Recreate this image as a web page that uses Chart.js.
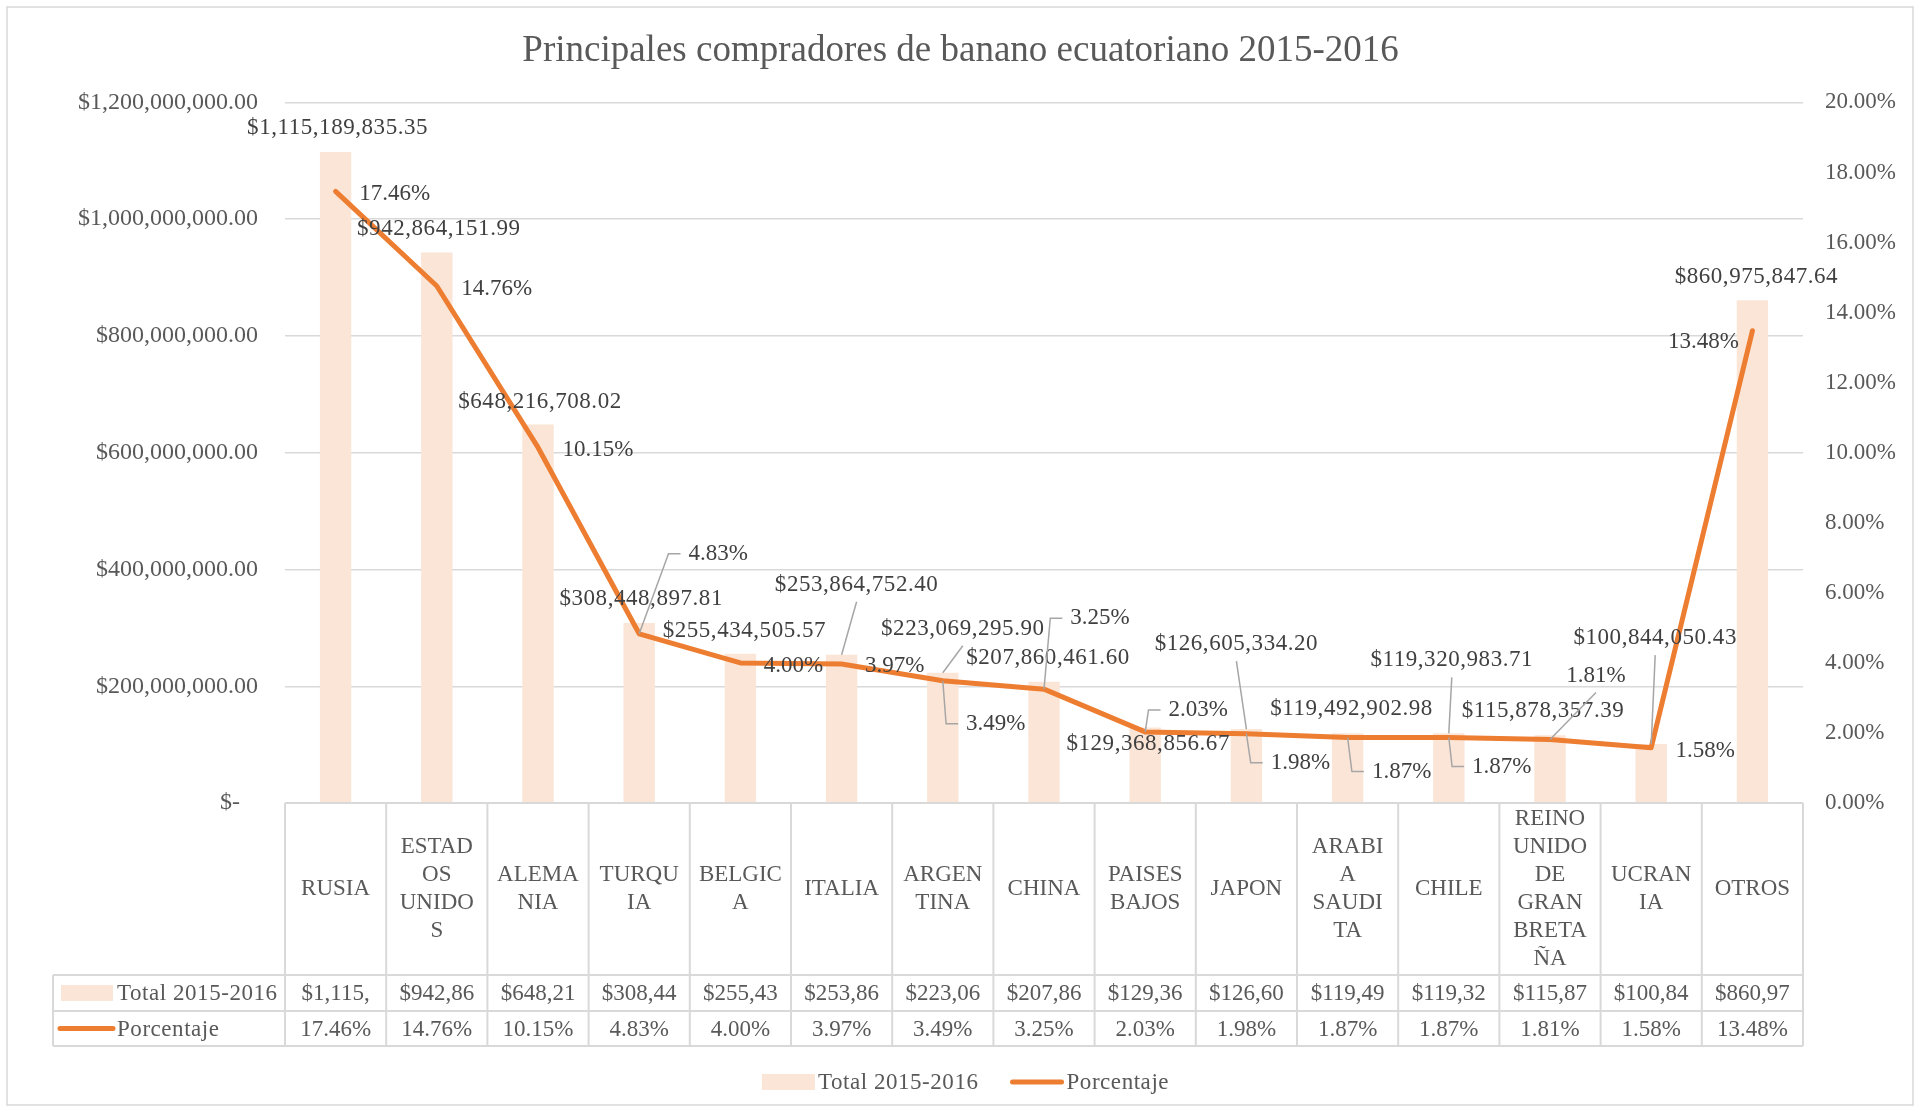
<!DOCTYPE html>
<html>
<head>
<meta charset="utf-8">
<script src="https://cdn.jsdelivr.net/npm/chart.js@4/dist/chart.umd.min.js"></script>
<style>
  html, body { margin: 0; padding: 0; background: #ffffff; }
  canvas { display: block; }
</style>
</head>
<body>
<canvas id="c" width="1921" height="1112" style="width:1921px;height:1112px"></canvas>
<script>
// ---------------- DATA ----------------
const titleText = "Principales compradores de banano ecuatoriano 2015-2016";
const seriesNames = ["Total 2015-2016", "Porcentaje"];
const categoryLabels = [
  ["RUSIA"], ["ESTAD", "OS", "UNIDO", "S"], ["ALEMA", "NIA"], ["TURQU", "IA"], ["BELGIC", "A"],
  ["ITALIA"], ["ARGEN", "TINA"], ["CHINA"], ["PAISES", "BAJOS"], ["JAPON"],
  ["ARABI", "A", "SAUDI", "TA"], ["CHILE"], ["REINO", "UNIDO", "DE", "GRAN", "BRETA", "ÑA"], ["UCRAN", "IA"], ["OTROS"]
];
const totals = [
  1115189835.35, 942864151.99, 648216708.02, 308448897.81, 255434505.57,
  253864752.40, 223069295.90, 207860461.60, 129368856.67, 126605334.20,
  119492902.98, 119320983.71, 115878357.39, 100844050.43, 860975847.64
];
const percents = [17.46, 14.76, 10.15, 4.83, 4.00, 3.97, 3.49, 3.25, 2.03, 1.98, 1.87, 1.87, 1.81, 1.58, 13.48];
const leftAxisRange = [0, 1200000000, 200000000];
const rightAxisRange = [0, 20, 2];

// ---------------- STYLE / LAYOUT ----------------
const FONT = '"Liberation Serif", "Times New Roman", serif';
const TEXT = '#595959';
const LABEL_TEXT = '#404040';
const GRID = '#d9d9d9';
const BAR = '#FBE5D6';
const LINE = '#ED7D31';
const LEADER = '#A6A6A6';

const money = v => '$' + v.toLocaleString('en-US', { minimumFractionDigits: 2, maximumFractionDigits: 2 });
const pct = v => v.toFixed(2) + '%';

// label placement: [dx, dy, leaderMode] relative to the anchor (bar top / line point)
const valueLabelLayout = [
  [2, -24, null], [2, -24, null], [2, -23, null], [2, -24, null], [4, -23, null],
  [15, -70, 'bottom'], [20, -44, 'bottom'], [4, -24, null], [3, 16, null], [-10, -85, 'bottom'],
  [4, -24, null], [3, -73, 'bottom'], [-7, -24, null], [4, -106, 'bottom'], [4, -23, null]
];
const pctLabelLayout = [
  [59, 3, null], [60, 3, null], [60, 3, null], [79, -80, 'left'], [53, 3, null],
  [53, 2, null], [53, 43, 'left'], [56, -71, 'left'], [53, -22, 'left'], [54, 29, 'left'],
  [54, 34, 'left'], [53, 29, 'left'], [46, -64, 'bottom'], [54, 3, null], [-49, 11, null]
];
const tableLayout = { headerH: 172, rowH: [36, 35], keyLeft: 53, lineH: 28 };
const legendLayout = { centerY: 1082, keyW: 53, keyH: 16, keyGap: 3, itemGap: 32 };
const WIDE = '0.55px';

// ---------------- PLUGINS ----------------
const framePlugin = {
  id: 'frame',
  beforeDraw(chart) {
    const ctx = chart.ctx;
    ctx.save();
    ctx.fillStyle = '#ffffff';
    ctx.fillRect(0, 0, chart.width, chart.height);
    ctx.strokeStyle = GRID;
    ctx.lineWidth = 1.5;
    ctx.strokeRect(7, 7, chart.width - 15, chart.height - 14);
    ctx.restore();
  }
};

const tablePlugin = {
  id: 'dataTable',
  afterDraw(chart) {
    const { ctx, chartArea } = chart;
    const xs = chart.scales.x;
    const n = categoryLabels.length;
    const bounds = [];
    for (let i = 0; i <= n; i++) bounds.push(xs.getPixelForValue(i - 0.5));
    const top = chartArea.bottom;
    const hBot = top + tableLayout.headerH;
    const r1 = hBot + tableLayout.rowH[0];
    const r2 = r1 + tableLayout.rowH[1];
    const kl = tableLayout.keyLeft;
    ctx.save();
    ctx.strokeStyle = GRID;
    ctx.lineWidth = 2;
    ctx.beginPath();
    ctx.moveTo(bounds[0], top); ctx.lineTo(bounds[n], top);
    [hBot, r1, r2].forEach(y => { ctx.moveTo(kl, y); ctx.lineTo(bounds[n], y); });
    bounds.forEach(b => { ctx.moveTo(b, top); ctx.lineTo(b, r2); });
    ctx.moveTo(kl, hBot); ctx.lineTo(kl, r2);
    ctx.stroke();

    ctx.fillStyle = TEXT;
    ctx.font = '23px ' + FONT;
    ctx.textAlign = 'center';
    ctx.textBaseline = 'middle';
    for (let i = 0; i < n; i++) {
      const cx = (bounds[i] + bounds[i + 1]) / 2;
      const lines = categoryLabels[i];
      const mid = (top + hBot) / 2;
      lines.forEach((t, k) => {
        ctx.fillText(t, cx, mid + (k - (lines.length - 1) / 2) * tableLayout.lineH);
      });
      ctx.fillText(money(totals[i]).slice(0, 7), cx, (hBot + r1) / 2 + 1);
      ctx.fillText(pct(percents[i]), cx, (r1 + r2) / 2 + 1);
    }
    // key column
    const y1 = (hBot + r1) / 2, y2 = (r1 + r2) / 2;
    ctx.fillStyle = BAR;
    ctx.fillRect(kl + 8, y1 - 8, 52, 16);
    ctx.strokeStyle = LINE;
    ctx.lineWidth = 5;
    ctx.lineCap = 'round';
    ctx.beginPath(); ctx.moveTo(kl + 7, y2); ctx.lineTo(kl + 60, y2); ctx.stroke();
    ctx.fillStyle = TEXT;
    ctx.textAlign = 'left';
    ctx.letterSpacing = WIDE;
    ctx.fillText(seriesNames[0], kl + 64, y1 + 1);
    ctx.fillText(seriesNames[1], kl + 64, y2 + 1);

    // bottom legend
    const L = legendLayout;
    const w1 = ctx.measureText(seriesNames[0]).width;
    const w2 = ctx.measureText(seriesNames[1]).width;
    const total = L.keyW + L.keyGap + w1 + L.itemGap + L.keyW + L.keyGap + w2;
    let lx = chart.width / 2 - total / 2 + 5;
    ctx.fillStyle = BAR;
    ctx.fillRect(lx, L.centerY - L.keyH / 2, L.keyW, L.keyH);
    ctx.fillStyle = TEXT;
    ctx.fillText(seriesNames[0], lx + L.keyW + L.keyGap, L.centerY + 1);
    lx += L.keyW + L.keyGap + w1 + L.itemGap;
    ctx.beginPath(); ctx.moveTo(lx + 2, L.centerY); ctx.lineTo(lx + L.keyW - 2, L.centerY); ctx.stroke();
    ctx.fillText(seriesNames[1], lx + L.keyW + L.keyGap, L.centerY + 1);
    ctx.restore();
  }
};

function drawLabel(ctx, text, ax, ay, spec) {
  const [dx, dy, mode] = spec;
  const cx = ax + dx, cy = ay + dy;
  const w = ctx.measureText(text).width;
  if (mode) {
    ctx.beginPath();
    ctx.moveTo(ax, ay);
    if (mode === 'left') {
      const left = cx - w / 2;
      ctx.lineTo(left - 20, cy);
      ctx.lineTo(left - 8, cy);
    } else {
      ctx.lineTo(cx, cy + 17);
    }
    ctx.stroke();
  }
  ctx.fillText(text, cx, cy);
}

const labelPlugin = {
  id: 'dataLabels',
  afterDatasetsDraw(chart) {
    const ctx = chart.ctx;
    const bars = chart.getDatasetMeta(0).data;
    const pts = chart.getDatasetMeta(1).data;
    ctx.save();
    ctx.font = '23px ' + FONT;
    ctx.fillStyle = LABEL_TEXT;
    ctx.strokeStyle = LEADER;
    ctx.lineWidth = 1.5;
    ctx.textAlign = 'center';
    ctx.textBaseline = 'middle';
    ctx.letterSpacing = WIDE;
    bars.forEach((b, i) => drawLabel(ctx, money(totals[i]), b.x, b.y, valueLabelLayout[i]));
    ctx.letterSpacing = '0px';
    pts.forEach((p, i) => drawLabel(ctx, pct(percents[i]), p.x, p.y, pctLabelLayout[i]));
    ctx.restore();
  }
};

// ---------------- CHART ----------------
new Chart(document.getElementById('c'), {
  data: {
    labels: categoryLabels,
    datasets: [
      {
        type: 'bar', label: seriesNames[0], data: totals, yAxisID: 'y',
        backgroundColor: BAR, order: 2, categoryPercentage: 1.0, barPercentage: 0.31
      },
      {
        type: 'line', label: seriesNames[1], data: percents, yAxisID: 'y1',
        borderColor: LINE, backgroundColor: LINE, borderWidth: 5, pointRadius: 0, tension: 0,
        borderJoinStyle: 'round', borderCapStyle: 'round', fill: false, order: 1
      }
    ]
  },
  options: {
    responsive: false,
    animation: false,
    layout: { padding: { top: 0, bottom: 53, left: 0, right: 0 } },
    plugins: {
      title: {
        display: true, text: titleText, color: TEXT,
        font: { family: FONT, size: 37, weight: 'normal' },
        padding: { top: 29.5, bottom: 28.5 }
      },
      legend: { display: false },
      tooltip: { enabled: false }
    },
    scales: {
      x: {
        grid: { display: false }, border: { display: false }, ticks: { display: false },
        afterFit(s) { s.height = 256; }
      },
      y: {
        position: 'left', min: leftAxisRange[0], max: leftAxisRange[1],
        ticks: {
          stepSize: leftAxisRange[2], padding: 27, color: TEXT, font: { family: FONT, size: 24 },
          callback: v => v === 0 ? '$-   ' : money(v)
        },
        grid: { color: GRID, lineWidth: 1.4, drawTicks: false },
        border: { display: false },
        afterFit(s) { s.width = 285; }
      },
      y1: {
        position: 'right', min: rightAxisRange[0], max: rightAxisRange[1],
        ticks: {
          stepSize: rightAxisRange[2], padding: 22, color: TEXT, font: { family: FONT, size: 23 },
          callback: v => pct(v)
        },
        grid: { display: false, drawTicks: false },
        border: { display: false },
        afterFit(s) { s.width = 118; }
      }
    }
  },
  plugins: [framePlugin, tablePlugin, labelPlugin]
});
</script>
</body>
</html>
